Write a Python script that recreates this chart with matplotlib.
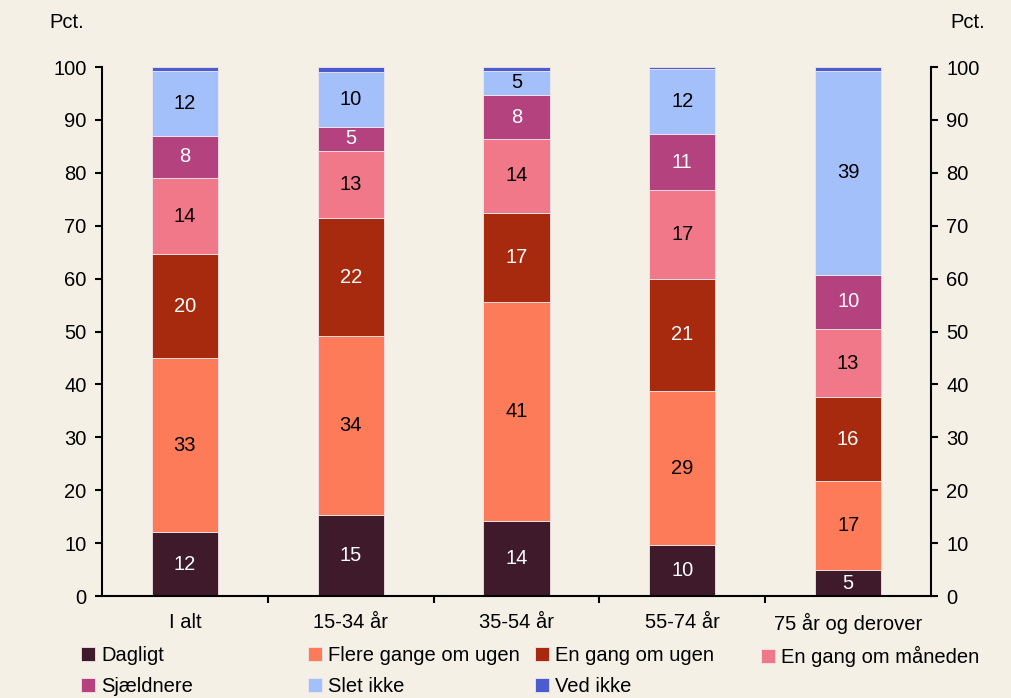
import matplotlib
matplotlib.use("Agg")
import matplotlib.pyplot as plt
import numpy as np

plt.rcParams['font.family'] = ['Liberation Sans', 'DejaVu Sans']

categories = ['I alt', '15-34 år', '35-54 år', '55-74 år', '75 år og derover']
series_names = ['Dagligt', 'Flere gange om ugen', 'En gang om ugen', 'En gang om måneden',
                'Sjældnere', 'Slet ikke', 'Ved ikke']
dagligt = [12.1, 15.3, 14.2, 9.6, 4.9]
flere = [32.9, 33.8, 41.4, 29.2, 16.8]
ugen = [19.6, 22.4, 16.8, 21.1, 15.9]
maaned = [14.4, 12.6, 14.0, 16.8, 12.9]
sjaeldnere = [8.0, 4.6, 8.3, 10.6, 10.2]
slet_ikke = [12.2, 10.4, 4.6, 12.4, 38.6]
ved_ikke = [0.8, 0.9, 0.7, 0.3, 0.7]
series = [dagligt, flere, ugen, maaned, sjaeldnere, slet_ikke, ved_ikke]

colors = ['#3e1a2b', '#fe7b5a', '#a82a0e', '#f07889', '#b3427f', '#a3c0fb', '#4a5cd0']
label_colors = ['white', 'black', 'white', 'black', 'white', 'black', None]

bg = '#f4f0e6'
fs = 14.5
fig = plt.figure(figsize=(10.12, 6.98), dpi=100, facecolor=bg)
ax = fig.add_axes([0.1008, 0.146, 0.8192, 0.758])
ax.set_facecolor(bg)

x = np.arange(len(categories))
bottom = np.zeros(len(categories))
handles = []
for vals, name, col, lc in zip(series, series_names, colors, label_colors):
    vals = np.array(vals)
    b = ax.bar(x, vals, 0.4, bottom=bottom, color=col, edgecolor='#f0e6ec',
               linewidth=0.6, label=name)
    handles.append(b)
    if lc is not None:
        for xi, v, b0 in zip(x, vals, bottom):
            ax.text(xi, b0 + v / 2, f'{int(round(v))}', ha='center', va='center',
                    color=lc, fontsize=fs)
    bottom += vals

ax.set_xlim(-0.5, len(categories) - 0.5)
ax.set_ylim(0, 100)
ax.set_yticks(range(0, 101, 10))
ax.set_xticks(x)
ax.set_xticklabels(categories, fontsize=fs)
ax.set_xticks(np.arange(0.5, len(categories) - 1, 1), minor=True)
ax.tick_params(axis='x', which='major', length=0, pad=12)
ax.tick_params(axis='x', which='minor', length=5, width=1.5, direction='out')
ax.tick_params(axis='y', which='both', left=True, right=True, labelleft=True,
               labelright=True, length=5, width=1.5, labelsize=fs, pad=6)
ax.spines['top'].set_visible(False)
for s in ['left', 'right', 'bottom']:
    ax.spines[s].set_linewidth(1.5)

fig.text(0.066, 0.968, 'Pct.', fontsize=fs, ha='center', va='center')
fig.text(0.956, 0.968, 'Pct.', fontsize=fs, ha='center', va='center')

# legend: 4 columns, filled row by row
col_x = [0.080, 0.304, 0.529, 0.752]
for c, cx in enumerate(col_x):
    idx = [i for i in (c, c + 4) if i < len(handles)]
    fig.legend(handles=[handles[i] for i in idx], labels=[series_names[i] for i in idx],
               loc='upper left', bbox_to_anchor=(cx, 0.074), frameon=False,
               fontsize=fs, handlelength=0.7, handleheight=0.7, handletextpad=0.3,
               labelspacing=0.6, borderpad=0, borderaxespad=0)

fig.savefig('out.png', dpi=100, facecolor=bg)
